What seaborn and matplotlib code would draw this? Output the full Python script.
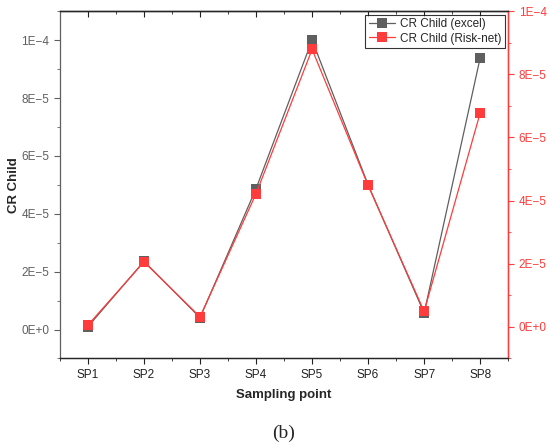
import pandas as pd
import matplotlib
matplotlib.use("Agg")
import matplotlib.pyplot as plt
import seaborn as sns
from matplotlib.ticker import FuncFormatter, MultipleLocator, FixedLocator

# data
points = ["SP1", "SP2", "SP3", "SP4", "SP5", "SP6", "SP7", "SP8"]
cr_excel = [1.0e-6, 2.36e-5, 4.1e-6, 4.87e-5, 1.0e-4, 5.0e-5, 5.7e-6, 9.39e-5]
cr_risknet = [6e-7, 2.06e-5, 3.2e-6, 4.22e-5, 8.79e-5, 4.48e-5, 4.9e-6, 6.78e-5]

df = pd.DataFrame({"pos": range(1, len(points) + 1), "point": points,
                   "excel": cr_excel, "risknet": cr_risknet})

sns.set_style("ticks")
plt.rcParams["font.family"] = ["Liberation Sans", "DejaVu Sans"]

gray = "#5f5f5f"
red = "#ff3b3b"


def sci(v, pos):
    if abs(v) < 1e-12:
        return "0E+0"
    s = "%.0E" % v
    mant, exp = s.split("E")
    e = int(exp)
    sign = "+" if e >= 0 else "\u2212"
    return "%sE%s%d" % (mant, sign, abs(e))


fig = plt.figure(figsize=(5.5, 4.47), dpi=100)
ax = fig.add_axes([0.109, 0.198, 0.815, 0.777])
ax2 = ax.twinx()

sns.lineplot(data=df, x="pos", y="excel", ax=ax, color=gray, marker="s",
             markersize=6.5, markeredgewidth=0, linewidth=0.9, label="CR Child (excel)", legend=False)
sns.lineplot(data=df, x="pos", y="risknet", ax=ax2, color=red, marker="s",
             markersize=6.5, markeredgewidth=0, linewidth=0.9, label="CR Child (Risk-net)", legend=False)

ax.set_xlim(0.5, 8.5)
ax.set_ylim(-1e-5, 1.1e-4)
ax2.set_ylim(-1e-5, 1e-4)

ax.xaxis.set_major_locator(FixedLocator(df["pos"]))
ax.set_xticklabels(points)
ax.xaxis.set_minor_locator(MultipleLocator(0.5))
for a in (ax, ax2):
    a.yaxis.set_major_locator(MultipleLocator(2e-5))
    a.yaxis.set_minor_locator(MultipleLocator(1e-5))
    a.yaxis.set_major_formatter(FuncFormatter(sci))

ax.tick_params(axis="x", which="both", direction="out", labelsize=8.5, colors="#222222")
ax.tick_params(axis="x", which="major", length=4)
ax.tick_params(axis="x", which="minor", length=2.5)
ax.tick_params(axis="y", which="major", length=4, labelsize=8.5, colors=gray)
ax.tick_params(axis="y", which="minor", length=2.5, colors=gray)
ax2.tick_params(axis="y", which="major", length=4, labelsize=8.5, colors=red)
ax2.tick_params(axis="y", which="minor", length=2.5, colors=red)

# top ticks point inward
top = ax.secondary_xaxis("top")
top.xaxis.set_major_locator(FixedLocator(df["pos"]))
top.xaxis.set_minor_locator(MultipleLocator(0.5))
top.tick_params(axis="x", which="both", direction="in", labeltop=False, colors="#222222")
top.tick_params(axis="x", which="major", length=4)
top.tick_params(axis="x", which="minor", length=2.5)
top.spines["top"].set_linewidth(0.9)

ax.spines["left"].set_color(gray)
ax2.spines["right"].set_color(red)
ax2.spines["left"].set_visible(False)
for a in (ax, ax2):
    for sp in a.spines.values():
        sp.set_linewidth(0.9)

ax.set_xlabel("Sampling point", fontsize=9.5, fontweight="bold", labelpad=6)
ax.set_ylabel("CR Child", fontsize=9.5, fontweight="bold", labelpad=1)
ax2.set_ylabel("")

h1, l1 = ax.get_legend_handles_labels()
h2, l2 = ax2.get_legend_handles_labels()
leg = ax2.legend(h1 + h2, l1 + l2, loc="upper right", fontsize=8.5, frameon=True,
                 fancybox=False, edgecolor="black", borderaxespad=0.3,
                 handlelength=2.2, borderpad=0.3, labelspacing=0.2, handletextpad=0.4)
leg.get_frame().set_linewidth(0.8)

fig.text(0.515, 0.03, "(b)", ha="center", va="center", fontsize=14,
         family=["Liberation Serif", "DejaVu Serif"])

fig.savefig("out.png", dpi=100)
